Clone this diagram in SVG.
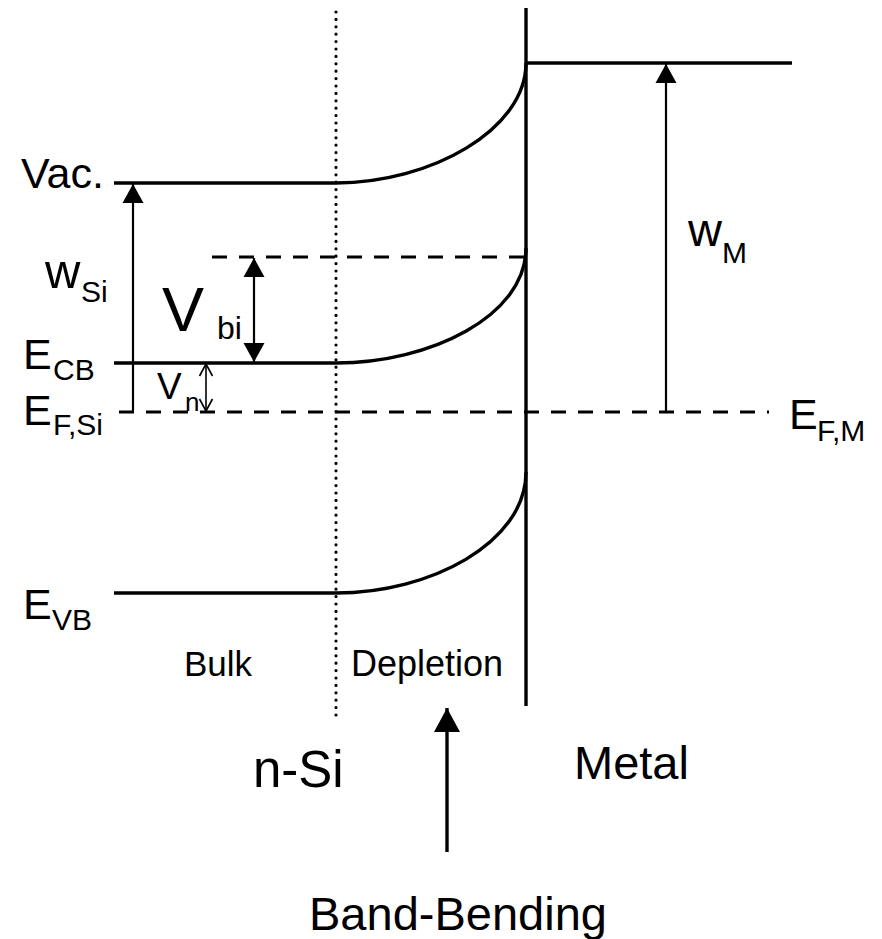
<svg xmlns="http://www.w3.org/2000/svg" width="882" height="939" viewBox="0 0 882 939">
<style>
  .band { fill: none; stroke: #000; stroke-width: 3.4; }
  .dash { fill: none; stroke: #000; stroke-width: 3.2; stroke-dasharray: 15 12; }
  .dot { fill: none; stroke: #000; stroke-width: 3.2; stroke-dasharray: 0 7.4; stroke-linecap: round; }
  .arr { fill: none; stroke: #000; stroke-width: 2.2; }
  .thin { fill: none; stroke: #000; stroke-width: 1.6; }
  text { font-family: "Liberation Sans", Arial, sans-serif; fill: #000; }
  .lbl { font-size: 43px; }
  .sub { font-size: 30px; }
  .big { font-size: 47px; }
  .reg { font-size: 35px; }
</style>
<defs>
  <marker id="head" markerUnits="userSpaceOnUse" markerWidth="22" markerHeight="22" refX="19" refY="10.5" orient="auto" overflow="visible">
    <path d="M0,0 L19,10.5 L0,21 Z" fill="#000"/>
  </marker>
  <marker id="bighead" markerUnits="userSpaceOnUse" markerWidth="26" markerHeight="28" refX="24" refY="13" orient="auto" overflow="visible">
    <path d="M0,0 L24,13 L0,26 Z" fill="#000"/>
  </marker>
  <marker id="open" markerUnits="userSpaceOnUse" markerWidth="14" markerHeight="14" refX="12" refY="6.5" orient="auto" overflow="visible">
    <path d="M0,0 L12,6.5 L0,13" fill="none" stroke="#000" stroke-width="1.6"/>
  </marker>
</defs>

<g id="regions">
  <line class="dot" x1="336" y1="12" x2="336" y2="716"/>
  <line id="interface" class="band" x1="526" y1="8" x2="526" y2="706"/>
</g>

<g id="vacuum">
  <path class="band" d="M114,183 H336 C430,183 526,130 526,63"/>
  <line class="band" x1="526" y1="63" x2="792" y2="63"/>
</g>
<g id="conduction-band">
  <path class="band" d="M114,363 H336 C430,363 526,316 526,248"/>
</g>
<g id="valence-band">
  <path class="band" d="M114,593 H336 C430,593 526,543 526,472"/>
</g>
<g id="fermi">
  <line class="dash" x1="119" y1="412" x2="769" y2="412"/>
  <line class="dash" x1="212" y1="257" x2="526" y2="257"/>
</g>

<g id="connectors">
  <line class="arr" x1="133" y1="411" x2="133" y2="184" marker-end="url(#head)"/>
  <line class="arr" x1="254" y1="310" x2="254" y2="258" marker-end="url(#head)"/>
  <line class="arr" x1="254" y1="310" x2="254" y2="362" marker-end="url(#head)"/>
  <line class="thin" x1="206" y1="388" x2="206" y2="364" marker-end="url(#open)"/>
  <line class="thin" x1="206" y1="388" x2="206" y2="411" marker-end="url(#open)"/>
  <line class="arr" x1="666" y1="411" x2="666" y2="64" marker-end="url(#head)"/>
  <line class="band" x1="447" y1="852" x2="447" y2="708" marker-end="url(#bighead)"/>
</g>

<g id="labels">
  <text class="lbl" x="21" y="188">Vac.</text>
  <text x="45" y="288"><tspan style="font-size:49px">w</tspan><tspan class="sub" x="81" y="302">Si</tspan></text>
  <text class="lbl" x="23" y="369">E<tspan class="sub" x="53" y="380">CB</tspan></text>
  <text class="lbl" x="23" y="425">E<tspan class="sub" x="53" y="435">F,Si</tspan></text>
  <text class="lbl" x="23" y="619">E<tspan class="sub" x="52" y="630">VB</tspan></text>
  <text x="162" y="331"><tspan style="font-size:63px">V</tspan><tspan style="font-size:32px" x="217" y="339">bi</tspan></text>
  <text x="157" y="399"><tspan style="font-size:37px">V</tspan><tspan style="font-size:26px" x="185" y="411">n</tspan></text>
  <text x="688" y="246"><tspan style="font-size:47px">w</tspan><tspan style="font-size:30px" x="722" y="263">M</tspan></text>
  <text class="lbl" x="789" y="429">E<tspan class="sub" x="817" y="441">F,M</tspan></text>
  <text class="reg" x="184" y="676">Bulk</text>
  <text style="font-size:36px" x="351" y="676">Depletion</text>
  <text style="font-size:51px" x="253" y="787">n-Si</text>
  <text class="big" x="574" y="779">Metal</text>
  <text class="big" x="309" y="930">Band-Bending</text>
</g>
</svg>
